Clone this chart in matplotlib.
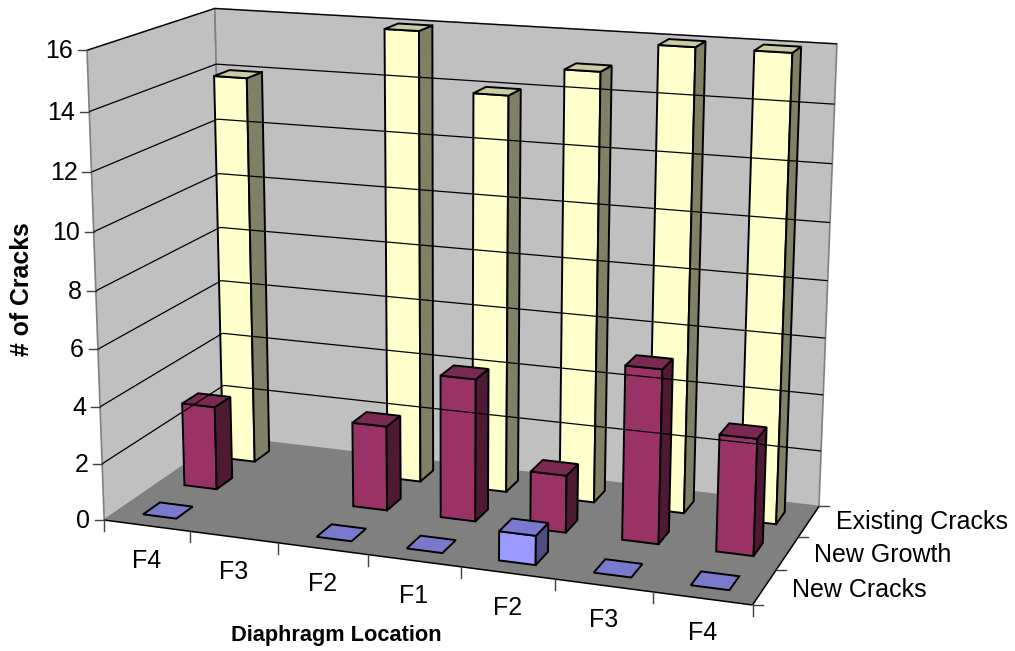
import matplotlib
matplotlib.use("Agg")
import matplotlib.pyplot as plt
from matplotlib.patches import Polygon
import numpy as np

# Date
locations = ["F4", "F3", "F2", "F1", "F2", "F3", "F4"]
series_names = ["New Cracks", "New Growth", "Existing Cracks"]
new_cracks = [0, np.nan, 0, 0, 1, 0, 0]
new_growth = [3, np.nan, 3, 5, 2, 6, 4]
existing_cracks = [14, np.nan, 16, 14, 15, 16, 16]
z_ticks = [0, 2, 4, 6, 8, 10, 12, 14, 16]

series_values = [new_cracks, new_growth, existing_cracks]
# culori: fata, sus, lateral
series_colors = [("#9999FF", "#7A7ACC", "#4D4D80"),
                 ("#993366", "#7A2952", "#4D1933"),
                 ("#FFFFCC", "#CCCCA3", "#808066")]

plt.rcParams['font.family'] = ['Liberation Sans', 'DejaVu Sans']

nx, ny, nz = len(locations), len(series_names), z_ticks[-1]

# Calibrez camera dupa colturile cutiei (pixeli in imagine)
box_world = [(0, 0, 0), (nx, 0, 0), (nx, ny, 0), (0, ny, 0), (0, 0, nz), (0, ny, nz), (nx, ny, nz)]
box_pixel = [(105, 519), (752.7, 605.7), (819, 505.7), (224, 438), (86, 50.7), (216, 8), (836.7, 44)]
A, b = [], []
for (X, Y, Z), (u, v) in zip(box_world, box_pixel):
    A.append([X, Y, Z, 1, 0, 0, 0, 0, -u * X, -u * Y, -u * Z])
    A.append([0, 0, 0, 0, X, Y, Z, 1, -v * X, -v * Y, -v * Z])
    b += [u, v]
cam = np.append(np.linalg.lstsq(np.array(A, float), np.array(b, float), rcond=None)[0], 1).reshape(3, 4)


def project(x, y, z):
    p = cam @ np.array([x, y, z, 1.0])
    return p[0] / p[2], p[1] / p[2]


def face(pts, color, edge="black", lw=1.4):
    ax.add_patch(Polygon([project(*p) for p in pts], closed=True, facecolor=color,
                         edgecolor=edge, linewidth=lw, joinstyle="miter"))


def seg(p, q, color="black", lw=0.9):
    a, c = project(*p), project(*q)
    ax.plot([a[0], c[0]], [a[1], c[1]], color=color, lw=lw, solid_capstyle="butt")


fig = plt.figure(figsize=(10.15, 6.51), dpi=100)
ax = fig.add_axes([0, 0, 1, 1])
ax.set_xlim(0, 1015)
ax.set_ylim(651, 0)
ax.axis("off")

# Peretii si podeaua
face([(0, 0, 0), (0, ny, 0), (0, ny, nz), (0, 0, nz)], "#C0C0C0", "#808080", 1.2)
face([(0, ny, 0), (nx, ny, 0), (nx, ny, nz), (0, ny, nz)], "#C0C0C0", "#808080", 1.2)
face([(0, 0, 0), (nx, 0, 0), (nx, ny, 0), (0, ny, 0)], "#808080", "none", 0)
seg((0, 0, 0), (nx, 0, 0), lw=1.1)
seg((nx, 0, 0), (nx, ny, 0), lw=1.1)

# Linii de grila si etichete pe axa z
for z in z_ticks:
    if z > 0:
        seg((0, 0, z), (0, ny, z))
        seg((0, ny, z), (nx, ny, z))
    px, py = project(0, 0, z)
    ax.plot([px - 9, px], [py, py], color="#404040", lw=1.0)
    ax.text(px - 14, py + 1, str(z), ha="right", va="center", fontsize=18)

# Marcaje pe axa x
for i in range(nx + 1):
    px, py = project(i, 0, 0)
    ax.plot([px, px], [py, py + 11], color="#404040", lw=1.0)
for i, name in enumerate(locations):
    px, py = project(i + 0.5, 0, 0)
    ax.text(px, py + 35, name, ha="center", va="center", fontsize=18)

# Marcaje pe axa y
for j in range(ny + 1):
    px, py = project(nx, j, 0)
    ax.plot([px, px + 10], [py, py], color="#404040", lw=1.0)
for j, name in enumerate(series_names):
    px, py = project(nx, j + 0.5, 0)
    ax.text(px + 27, py + 3 - 1.5 * j, name, ha="left", va="center", fontsize=18)

# Barele, din spate in fata
bar_w, bar_d = 0.39, 0.40
for j in range(ny - 1, -1, -1):
    front, top, side = series_colors[j]
    for i in range(nx):
        h = series_values[j][i]
        if np.isnan(h):
            continue
        x0, x1 = i + 0.5 - bar_w / 2, i + 0.5 + bar_w / 2
        y0, y1 = j + 0.5 - bar_d / 2, j + 0.5 + bar_d / 2
        if h > 0:
            face([(x0, y0, 0), (x1, y0, 0), (x1, y0, h), (x0, y0, h)], front)
            face([(x1, y0, 0), (x1, y1, 0), (x1, y1, h), (x1, y0, h)], side)
        face([(x0, y0, h), (x1, y0, h), (x1, y1, h), (x0, y1, h)], top)

ax.text(336, 635, "Diaphragm Location", ha="center", va="center", fontsize=15.7, fontweight="bold")
ax.text(22, 289, "# of Cracks", ha="center", va="center", rotation=90, fontsize=17.9, fontweight="bold")

fig.savefig("out.png", dpi=100)
